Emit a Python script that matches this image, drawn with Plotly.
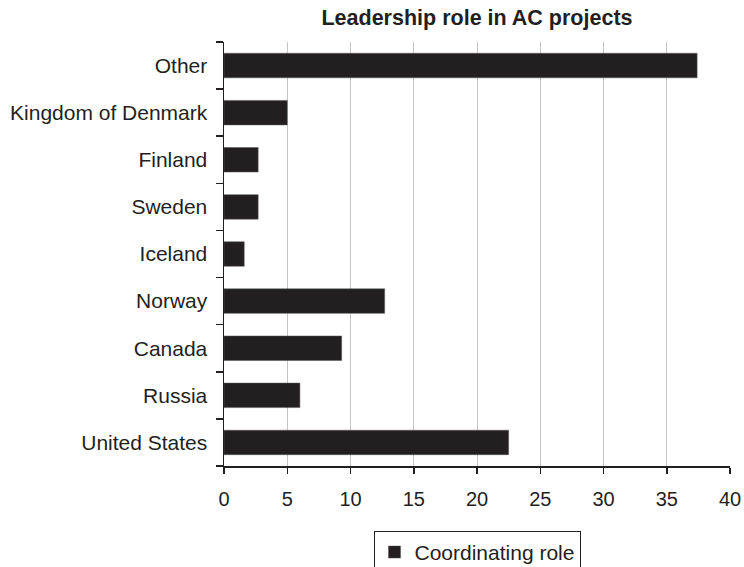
import plotly.graph_objects as go

categories = ["United States", "Russia", "Canada", "Norway", "Iceland",
              "Sweden", "Finland", "Kingdom of Denmark", "Other"]
coordinating = [22.5, 6.0, 9.3, 12.7, 1.6, 2.7, 2.7, 5.0, 37.4]
x_ticks = [0, 5, 10, 15, 20, 25, 30, 35, 40]

DARK = "#231f20"
FONT = "Liberation Sans, Arial, Helvetica, sans-serif"

fig = go.Figure()
fig.add_trace(go.Bar(
    y=categories, x=coordinating, orientation="h",
    name="Coordinating role",
    marker=dict(color=DARK, line=dict(color="#555555", width=0.5)),
))

fig.update_layout(
    width=744, height=567,
    margin=dict(l=224, r=14, t=42, b=101, autoexpand=False),
    paper_bgcolor="white", plot_bgcolor="white",
    font=dict(family=FONT, size=21, color=DARK),
    bargap=0.48,
    title=dict(text="<b>Leadership role in AC projects</b>",
               x=0.5, xref="paper", xanchor="center",
               y=1 - 17 / 567, yanchor="middle",
               font=dict(family=FONT, size=21.5, color=DARK)),
    showlegend=True,
    legend=dict(orientation="h", x=0.5, xanchor="center",
                y=-0.153, yanchor="top",
                bordercolor=DARK, borderwidth=1,
                font=dict(family=FONT, size=21, color=DARK),
                itemwidth=30),
    xaxis=dict(range=[0, 40], tickvals=x_ticks, ticktext=[str(v) for v in x_ticks],
               automargin=False,
               showgrid=True, gridcolor="#c4c4c4", gridwidth=1,
               showline=True, linecolor=DARK, linewidth=1.5,
               ticks="outside", ticklen=6, tickcolor=DARK, tickwidth=1.5,
               ticklabelstandoff=8,
               zeroline=False, fixedrange=True,
               tickfont=dict(family=FONT, size=20, color=DARK)),
    yaxis=dict(type="category", categoryorder="array", categoryarray=categories,
               automargin=False,
               showgrid=False, showline=True, linecolor=DARK, linewidth=1.5,
               ticks="outside", tickson="boundaries", ticklen=7,
               tickcolor=DARK, tickwidth=1.5, ticklabelstandoff=11,
               tickfont=dict(family=FONT, size=21, color=DARK)),
)

fig.write_html("out.html",
               config={"displayModeBar": False, "staticPlot": True},
               post_script="document.body.style.margin='0';"
                           "document.body.style.overflow='hidden';")
